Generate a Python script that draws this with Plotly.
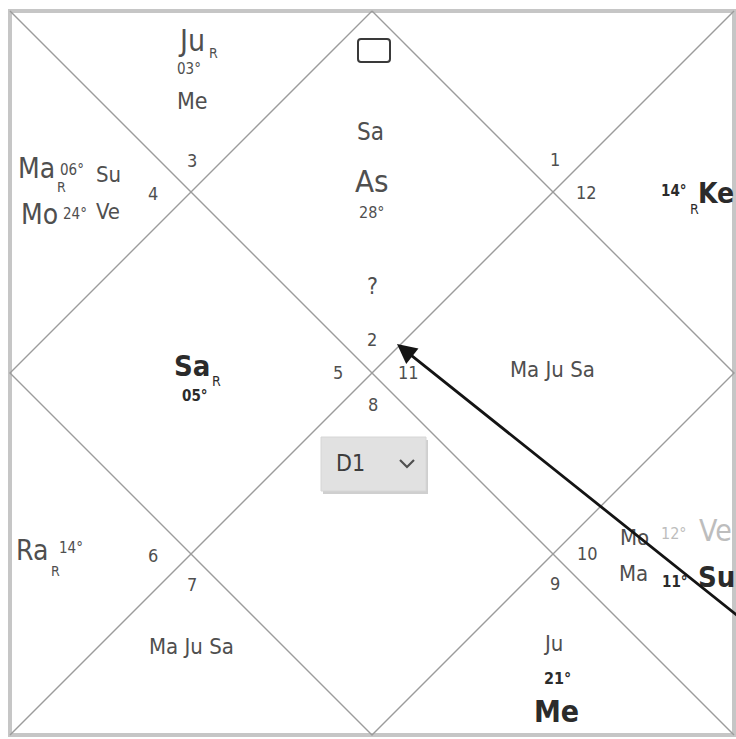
import plotly.graph_objects as go

W, H = 736, 739
FONT = "DejaVu Sans Condensed, Liberation Sans Narrow, Roboto Condensed, sans-serif"

# ---- chart frame (pixel-like coordinate system, y downwards) ----
L, T, R, B = 10, 11, 734, 735
CX, CY = (L + R) / 2, (T + B) / 2

# ---- data ----
house_numbers = ["1", "2", "3", "4", "5", "6", "7", "8", "9", "10", "11", "12"]
house_x = [555, 372, 192, 153, 338, 153, 192, 373, 555, 587, 408, 586]
house_y = [159, 339, 160, 193, 372, 555, 584, 404, 583, 553, 372, 192]

planet_labels = ["Ju", "R", "03°", "Me",
                 "Ma", "R", "06°", "Su", "Mo", "24°", "Ve",
                 "Sa", "As", "28°", "?",
                 "14°", "R", "Ke",
                 "Sa", "R", "05°",
                 "Ma Ju Sa",
                 "Ra", "R", "14°",
                 "Ma Ju Sa",
                 "Mo", "12°", "Ve", "Ma", "11°", "Su",
                 "Ju", "21°", "Me"]
planet_x = [191, 213, 189, 192,
            36, 61, 72, 108, 39, 75, 108,
            370, 372, 372, 372,
            674, 694, 716,
            192, 216, 195,
            552,
            32, 55, 71,
            191,
            634, 674, 715, 633, 675, 716,
            553, 557, 556]
planet_y = [40, 53, 69, 101,
            168, 187, 170, 174, 214, 214, 211,
            132, 181, 212, 286,
            191, 209, 193,
            366, 381, 396,
            369,
            550, 571, 548,
            646,
            537, 533, 530, 573, 582, 577,
            643, 678, 711]
planet_size = [30, 14, 15, 23,
               28, 14, 15, 22, 28, 15, 22,
               24, 31, 16, 23,
               15, 14, 28,
               29, 14, 15,
               22,
               28, 14, 15,
               22,
               22, 16, 30, 22, 15, 29,
               22, 16, 30]
DARK = "#2b2b2b"
MID = "#4f4f4f"
LIGHT = "#bdbdbd"
planet_color = [MID, MID, MID, MID,
                MID, MID, MID, MID, MID, MID, MID,
                MID, MID, MID, MID,
                DARK, DARK, DARK,
                DARK, DARK, DARK,
                MID,
                MID, MID, MID,
                MID,
                MID, LIGHT, LIGHT, MID, DARK, DARK,
                MID, DARK, DARK]
planet_bold = [False, False, False, False,
               False, False, False, False, False, False, False,
               False, False, False, False,
               True, False, True,
               True, False, True,
               False,
               False, False, False,
               False,
               False, False, False, False, True, True,
               False, True, True]

chart_label = "D1"

# ---- figure ----
fig = go.Figure()

# diamond + diagonals
lx = [L, R, None, R, L, None, CX, R, CX, L, CX]
ly = [T, B, None, T, B, None, T, CY, B, CY, T]
fig.add_trace(go.Scatter(x=lx, y=ly, mode="lines",
                         line=dict(color="#9c9c9c", width=1.4),
                         hoverinfo="skip", showlegend=False))

shapes = [
    # outer frame
    dict(type="rect", x0=L, y0=T, x1=R, y1=B, xref="x", yref="y",
         line=dict(color="#c6c6c6", width=4), layer="below"),
    # square icon at top
    dict(type="path", xref="x", yref="y",
         path="M 361 39 L 387 39 Q 390 39 390 42 L 390 59 Q 390 62 387 62 "
              "L 361 62 Q 358 62 358 59 L 358 42 Q 358 39 361 39 Z",
         line=dict(color="#3a3a3a", width=2)),
    # dropdown shadow
    dict(type="rect", x0=323, y0=440, x1=428, y1=494, xref="x", yref="y",
         fillcolor="#cfcfcf", line=dict(width=0)),
    # dropdown button
    dict(type="rect", x0=321, y0=437, x1=426, y1=491, xref="x", yref="y",
         fillcolor="#e1e1e1", line=dict(color="#d6d6d6", width=1)),
    # chevron
    dict(type="path", xref="x", yref="y",
         path="M 400 460 L 407 467 L 414 460",
         line=dict(color="#505050", width=2.2)),
]

annotations = []
for t, x, y in zip(house_numbers, house_x, house_y):
    annotations.append(dict(x=x, y=y, text=t, showarrow=False,
                            xanchor="center", yanchor="middle",
                            font=dict(family=FONT, size=18, color=MID)))
for t, x, y, s, c, b in zip(planet_labels, planet_x, planet_y,
                            planet_size, planet_color, planet_bold):
    annotations.append(dict(x=x, y=y, text=t, showarrow=False,
                            xanchor="center", yanchor="middle",
                            font=dict(family=FONT, size=s, color=c,
                                      weight="bold" if b else "normal")))
annotations.append(dict(x=350, y=463, text=chart_label, showarrow=False,
                        xanchor="center", yanchor="middle",
                        font=dict(family=FONT, size=23, color="#3c3c3c")))
# pointer arrow
annotations.append(dict(x=397, y=344, ax=748, ay=624, xref="x", yref="y",
                        axref="x", ayref="y", text="", showarrow=True,
                        arrowhead=2, arrowsize=1.4, arrowwidth=2.8,
                        arrowcolor="#141414"))

fig.update_layout(
    width=W, height=H,
    margin=dict(l=0, r=0, t=0, b=0),
    paper_bgcolor="white", plot_bgcolor="white",
    xaxis=dict(range=[0, W], visible=False, fixedrange=True),
    yaxis=dict(range=[H, 0], visible=False, fixedrange=True),
    shapes=shapes, annotations=annotations, showlegend=False,
)

fig.write_html(
    "out.html",
    config=dict(displayModeBar=False),
    post_script="document.body.style.margin='0';"
                "document.body.style.overflow='hidden';",
)
